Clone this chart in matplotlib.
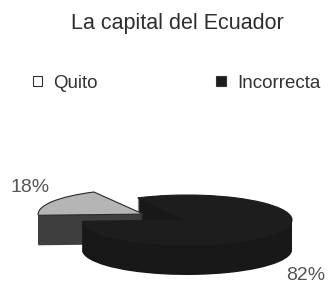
import numpy as np
import matplotlib.pyplot as plt
from matplotlib.patches import Patch

plt.rcParams['font.family'] = ['Liberation Sans', 'DejaVu Sans']

# datos
categorias = ["Quito", "Incorrecta"]
porcentajes = [18, 82]
colores_top = ["#b5b5b5", "#1d1d1d"]
colores_lado = ["#3e3e3e", "#181818"]
bordes = ["#2a2a2a", "#1d1d1d"]
explode = [0.48, 0.0]

fig = plt.figure(figsize=(3.34, 2.86), dpi=100)
ax = fig.add_axes([0, 0, 1, 1])

# grosor del pastel 3D (capas apiladas)
grosor = 1.2
for t in np.linspace(grosor, 0.02, 40):
    ax.pie(porcentajes, colors=colores_lado, startangle=118, counterclock=True,
           explode=explode, center=(0, -t), radius=1.0,
           wedgeprops=dict(linewidth=0))
# cara superior
cuñas, _ = ax.pie(porcentajes, colors=colores_top, startangle=118, counterclock=True,
                  explode=explode, center=(0, 0), radius=1.0,
                  wedgeprops=dict(linewidth=0.8))
for w, b in zip(cuñas, bordes):
    w.set_edgecolor(b)

# aplastar el circulo a una elipse
px_x, px_y = 105.0, 25.0
cx, cy = 187.0, 66.0
ax.set_xlim(-cx / px_x, (334 - cx) / px_x)
ax.set_ylim(-cy / px_y, (286 - cy) / px_y)
ax.set_aspect('auto')
ax.axis('off')

# etiquetas de porcentaje
fig.text(10 / 334, 1 - 187 / 286, f"{porcentajes[0]}%", fontsize=14,
         color="#555555", va='center', ha='left')
fig.text(325 / 334, 1 - 275 / 286, f"{porcentajes[1]}%", fontsize=14,
         color="#555555", va='center', ha='right')

fig.text(177 / 334, 1 - 23 / 286, "La capital del Ecuador", fontsize=15.5,
         color="#2e2e2e", ha='center', va='center')

handles = [Patch(facecolor="white", edgecolor="#333333", linewidth=0.8),
           Patch(facecolor="#1c1c1c", edgecolor="#333333", linewidth=0.8)]
fig.legend(handles, categorias, loc='center left', bbox_to_anchor=(33 / 334, 1 - 83 / 286),
           ncol=2, frameon=False, fontsize=13.5, handlelength=0.5, handleheight=0.5,
           handletextpad=0.6, columnspacing=6.3, borderpad=0, borderaxespad=0,
           labelcolor="#333333")

fig.savefig("out.png", dpi=100)
